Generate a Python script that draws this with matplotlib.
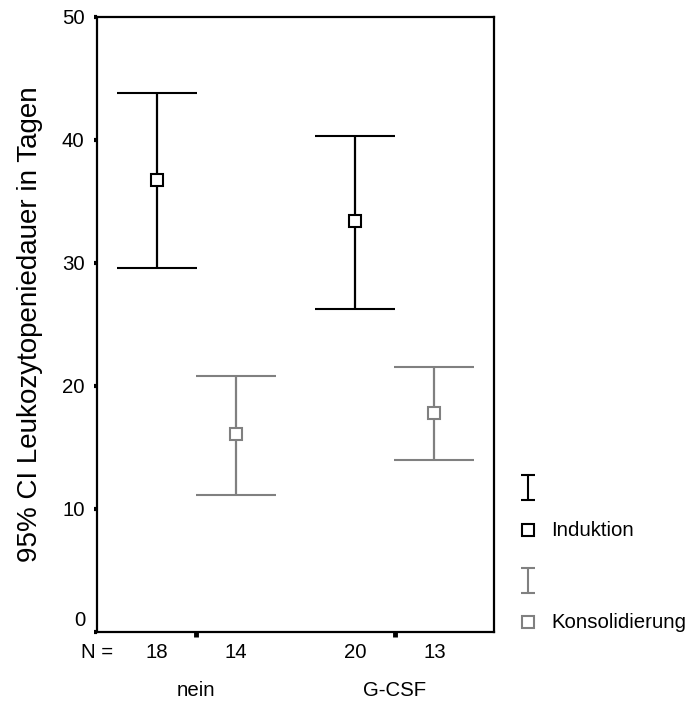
#!/usr/bin/env python3
# -*- coding: utf-8 -*-
"""
Leukozytopeniedauer (95%-KI) nach G-CSF-Gabe, getrennt für Induktion und Konsolidierung.
Saída: out.png
"""
import numpy as np
import matplotlib
matplotlib.use("Agg")
import matplotlib.pyplot as plt
from matplotlib.lines import Line2D

plt.rcParams["font.family"] = ["Liberation Sans", "DejaVu Sans"]

GRUPPEN = ["nein", "G-CSF"]
PHASEN = ["Induktion", "Konsolidierung"]

# Mittelwert und 95%-KI in Tagen
ind_mean = [36.7, 33.4]
ind_lo = [29.6, 26.2]
ind_hi = [43.8, 40.3]
kons_mean = [16.1, 17.8]
kons_lo = [11.1, 14.0]
kons_hi = [20.8, 21.5]

# Fallzahlen
ind_n = [18, 20]
kons_n = [14, 13]

W, H = 693, 707
INK = "#000000"
GRAU = "#808080"
OFF = 0.2     # Versatz der Phasen um die Gruppenmitte
FS = 14.7


def main():
    fig = plt.figure(figsize=(W / 100, H / 100), dpi=100)
    ax = fig.add_axes([97 / W, (H - 631.7) / H, 397 / W, 615 / H])
    ax.set_xlim(0.5, 2.5)
    ax.set_ylim(0, 50)

    xs = np.arange(1, len(GRUPPEN) + 1)
    serien = [
        (xs - OFF, ind_mean, ind_lo, ind_hi, INK),
        (xs + OFF, kons_mean, kons_lo, kons_hi, GRAU),
    ]
    for x, m, lo, hi, col in serien:
        m = np.array(m); lo = np.array(lo); hi = np.array(hi)
        ax.errorbar(x, m, yerr=[m - lo, hi - m], fmt="s", color=col, ecolor=col,
                    elinewidth=1.6, capsize=28.6, capthick=1.6,
                    ms=8.6, mfc="white", mec=col, mew=1.5, zorder=3)

    for sp in ax.spines.values():
        sp.set_linewidth(1.6)

    ax.set_yticks(range(0, 51, 10))
    ax.set_yticklabels([""] + [str(v) for v in range(10, 51, 10)])
    ax.tick_params(axis="y", direction="out", length=2.5, width=3, pad=6.5, labelsize=FS)
    ax.text(-0.030, 0.9, "0", transform=ax.get_yaxis_transform(), ha="right", va="center", fontsize=FS)
    ax.set_xticks(xs)
    ax.set_xticklabels([])
    ax.tick_params(axis="x", direction="out", length=3.5, width=3.5)

    ax.set_ylabel("95% CI Leukozytopeniedauer in Tagen", fontsize=20)
    ax.yaxis.set_label_coords(-0.136, 0.5)

    # N-Zeile und Gruppennamen unter der Achse
    tr = ax.get_xaxis_transform()
    ax.text(0.5, -0.0346, "N =", transform=tr, ha="center", va="center", fontsize=FS)
    for i, g in enumerate(GRUPPEN):
        ax.text(xs[i] - OFF, -0.0346, str(ind_n[i]), transform=tr, ha="center", va="center", fontsize=FS)
        ax.text(xs[i] + OFF, -0.0346, str(kons_n[i]), transform=tr, ha="center", va="center", fontsize=FS)
        ax.text(xs[i], -0.0948, g, transform=tr, ha="center", va="center", fontsize=FS)

    # Legende rechts, in Pixelkoordinaten
    lax = fig.add_axes([0, 0, 1, 1], zorder=-1)
    lax.set_xlim(0, W); lax.set_ylim(H, 0); lax.axis("off")
    for (yi, ysq), name, col in zip([(487.5, 530), (580, 622)], PHASEN, [INK, GRAU]):
        lax.errorbar([527.5], [yi], yerr=[[12.5], [12.5]], fmt="none", ecolor=col,
                     elinewidth=1.5, capsize=4.7, capthick=1.5)
        lax.add_line(Line2D([527.5], [ysq], marker="s", ms=9, mfc="white", mec=col, mew=1.5, ls="none"))
        lax.text(551, ysq, name, ha="left", va="center", fontsize=FS)

    fig.savefig("out.png", dpi=100, facecolor="white")
    plt.close(fig)


if __name__ == "__main__":
    main()
